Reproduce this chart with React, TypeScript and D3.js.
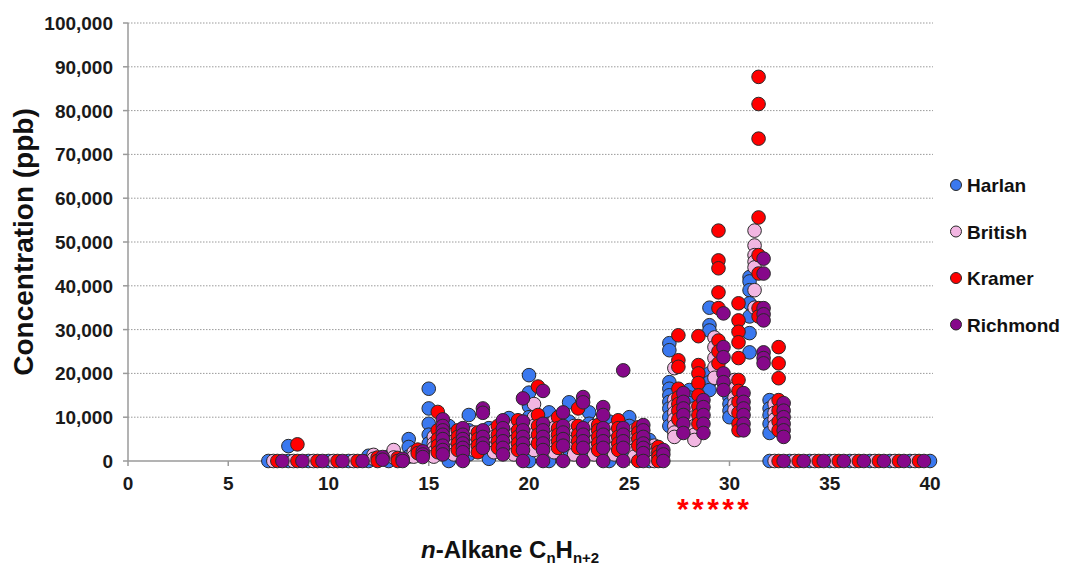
import React from "react";
import * as d3 from "d3";

// carbon numbers on the x axis (one column of samples per carbon number)
const carbonNumbers = [
  7, 8, 9, 10, 11, 12, 13, 14, 15, 16, 17, 18, 19, 20, 21, 22, 23, 24, 25, 26,
  27, 28, 29, 30, 31, 32, 33, 34, 35, 36, 37, 38, 39, 40,
];

// concentrations (ppb), one list of sample values per carbon number
const harlan: number[][] = [
  [0], [3400, 0], [0], [0], [0], [1200, 0], [1000, 0], [5000, 3200, 1000],
  [16500, 12000, 8500, 6000, 4000, 2000],
  [8000, 6000, 4500, 3000, 1500, 0],
  [10500, 7000, 5000, 3000, 1500],
  [7500, 5500, 4000, 2500, 500],
  [9800, 7500, 5500, 4000, 2500],
  [19600, 15600, 12500, 10000, 7500, 5000, 2500, 0],
  [11100, 8500, 6500, 4500, 2500, 0],
  [13400, 9000, 6500, 4500, 2500],
  [11100, 8500, 6500, 4500, 2000],
  [9000, 7000, 5000, 3500, 0],
  [10000, 8000, 6000, 4000, 2000],
  [4800, 3500, 2000, 0],
  [26900, 25300, 18000, 16500, 15000, 13500, 12000, 10000, 8000],
  [16200, 14500, 13200, 11500, 10000],
  [35000, 31000, 29800, 20000, 18000, 16200],
  [16200, 14500, 13000, 11500, 10000],
  [42000, 41000, 39000, 36000, 33000, 29200, 24800],
  [13900, 12000, 10500, 8500, 6400, 0],
  [0], [0], [0], [0], [0], [0], [0], [0],
];

const british: number[][] = [
  [0], [0], [0], [0], [0], [1400, 500], [2500, 800], [2000, 1000],
  [5500, 4000, 3000, 2000, 1000],
  [6000, 4500, 3500, 2500, 1500],
  [6500, 5000, 3500, 2500],
  [7000, 5500, 4000, 3000, 2000],
  [8000, 6000, 4500, 3000, 1500],
  [13000, 10000, 8000, 6000, 4000, 2500],
  [9000, 7500, 5500, 3500, 2000],
  [8000, 6000, 4500, 3000, 1500],
  [8000, 6000, 4500, 3000, 1500],
  [7500, 6000, 4500, 3000, 1500],
  [7000, 5500, 4000, 2500, 1000],
  [3500, 2500, 1500, 0],
  [21200, 14000, 12500, 11000, 9500, 8000, 6500, 5500],
  [12000, 10000, 8000, 6000, 4800],
  [28200, 26000, 23500, 21400, 19000],
  [18500, 16500, 14500, 13000, 11600],
  [52600, 49200, 47000, 45500, 44200, 39000, 35000],
  [13000, 11000, 9500, 8000, 0],
  [0], [0], [0], [0], [0], [0], [0], [],
];

const kramer: number[][] = [
  [0], [3800, 0], [0], [0], [0], [800, 0], [700, 0], [2600, 1800],
  [11200, 7000, 5000, 3500, 2000],
  [7000, 5500, 4000, 2500],
  [6500, 5000, 3500, 2000],
  [8000, 6000, 4500, 3000],
  [9300, 7000, 5500, 4000, 2500],
  [17000, 10500, 8000, 6000, 4000],
  [10000, 7500, 6000, 4500, 3000],
  [12000, 8000, 6000, 4500, 3000],
  [8200, 7000, 5500, 4000, 2500],
  [9300, 7500, 5500, 4000, 2500],
  [7700, 6500, 5000, 3500, 0],
  [3200, 2000, 1000, 0],
  [28700, 23000, 21500, 16500, 14500, 13000, 11500, 9500],
  [28500, 21900, 20000, 17800, 15000, 12500, 10500, 8500],
  [52600, 45800, 44000, 38500, 34900, 27500, 25000, 22300],
  [36000, 32100, 29500, 27100, 23500, 18500, 16000, 13500, 11000, 8500, 7000],
  [87700, 81500, 73600, 55600, 47000, 42800, 34900, 33000],
  [26000, 22300, 18900, 13900, 11500, 9000, 7000, 0],
  [0], [0], [0], [0], [0], [0], [0], [],
];

const richmond: number[][] = [
  [0], [0], [0], [0], [0], [900, 300], [500, 0], [2200, 1500, 900],
  [9500, 8000, 7000, 6000, 5000, 3500, 2500, 1500],
  [7500, 6000, 5000, 4000, 3000, 2000, 0],
  [12000, 11000, 7000, 5500, 4000, 3000],
  [9300, 7500, 6000, 4500, 3000, 1500],
  [14300, 9000, 7000, 5500, 4000, 2500, 0],
  [16000, 8500, 7000, 5500, 4000, 2500, 0],
  [11100, 8000, 6500, 5000, 3500, 0],
  [14600, 13400, 7500, 6000, 4500, 3000, 0],
  [12300, 10500, 7500, 6000, 4500, 3000, 0],
  [20700, 7500, 6000, 4500, 3000, 0],
  [8200, 7000, 5500, 4000, 3000, 1800, 0],
  [2500, 1500, 0],
  [15500, 13500, 12000, 10500, 8500, 6400],
  [13900, 12300, 10500, 8500, 6400],
  [33700, 26000, 23700, 20000, 18000, 16200],
  [15500, 13500, 12000, 10500, 8500, 7000],
  [46200, 42800, 34900, 33500, 32100, 24800, 23500, 22300],
  [13200, 11500, 10000, 8500, 7000, 5500, 0],
  [0], [0], [0], [0], [0], [0], [0], [],
];

const seriesNames = ["Harlan", "British", "Kramer", "Richmond"];
const seriesValues = [harlan, british, kramer, richmond];

const xTicks = [0, 5, 10, 15, 20, 25, 30, 35, 40];
const yTicks = [0, 10000, 20000, 30000, 40000, 50000, 60000, 70000, 80000, 90000, 100000];

// styling
const colors = ["#3a78ef", "#f2b6e2", "#ff0000", "#86088a"];
const offsets = [0, 0.25, 0.45, 0.7];
const font = "'Liberation Sans', Arial, sans-serif";

const W = 1071;
const H = 569;
const left = 128;
const right = 930;
const top = 23;
const bottom = 461;

export default function App() {
  const x = d3.scaleLinear().domain([0, 40]).range([left, right]);
  const y = d3.scaleLinear().domain([0, 100000]).range([bottom, top]);
  const fmt = d3.format(",");

  return (
    <svg
      width={W}
      height={H}
      style={{ position: "absolute", left: 0, top: 0, background: "#fff" }}
      fontFamily={font}
    >
      {/* gridlines */}
      {yTicks.slice(1).map((t) => (
        <line
          key={"g" + t}
          x1={left}
          x2={right + 3}
          y1={y(t)}
          y2={y(t)}
          stroke="#9a9a9a"
          strokeWidth={1}
          strokeDasharray="1.5,1.5"
        />
      ))}

      {/* axes */}
      <line x1={left} x2={left} y1={top} y2={bottom} stroke="#9a9a9a" strokeWidth={1.5} />
      <line x1={left} x2={right} y1={bottom} y2={bottom} stroke="#9a9a9a" strokeWidth={1.5} />
      {yTicks.map((t) => (
        <g key={"y" + t}>
          <line x1={left - 5} x2={left} y1={y(t)} y2={y(t)} stroke="#9a9a9a" strokeWidth={1.5} />
          <text
            x={113}
            y={y(t) + 7}
            textAnchor="end"
            fontSize={19}
            fontWeight="bold"
            fill="#1a1a1a"
          >
            {fmt(t)}
          </text>
        </g>
      ))}
      {xTicks.map((t) => (
        <g key={"x" + t}>
          <line x1={x(t)} x2={x(t)} y1={bottom} y2={bottom + 5} stroke="#9a9a9a" strokeWidth={1.5} />
          <text
            x={x(t)}
            y={490}
            textAnchor="middle"
            fontSize={19}
            fontWeight="bold"
            fill="#1a1a1a"
          >
            {t}
          </text>
        </g>
      ))}

      {/* points */}
      {seriesValues.map((series, si) => (
        <g key={seriesNames[si]}>
          {series.map((vals, ci) =>
            vals.map((v, vi) => (
              <circle
                key={ci + "-" + vi}
                cx={x(carbonNumbers[ci] + offsets[si])}
                cy={y(v)}
                r={6.8}
                fill={colors[si]}
                stroke="#2a2a2a"
                strokeWidth={1}
              />
            ))
          )}
        </g>
      ))}

      {/* significance marks */}
      <text
        x={713}
        y={519}
        textAnchor="middle"
        fontSize={30}
        fontWeight="bold"
        fill="#ff0000"
        textLength={72}
        lengthAdjust="spacing"
      >
        *****
      </text>

      {/* axis titles */}
      <text
        transform={`translate(33, 242) rotate(-90)`}
        textAnchor="middle"
        fontSize={28}
        fontWeight="bold"
        fill="#111"
      >
        Concentration (ppb)
      </text>
      <text x={421} y={558} fontSize={24} fontWeight="bold" fill="#111">
        <tspan fontStyle="italic">n</tspan>
        <tspan>-Alkane C</tspan>
        <tspan fontSize={15} dy={5}>n</tspan>
        <tspan dy={-5}>H</tspan>
        <tspan fontSize={15} dy={5}>n+2</tspan>
      </text>

      {/* legend */}
      {seriesNames.map((name, i) => (
        <g key={"l" + name} transform={`translate(0, ${185 + i * 46.5})`}>
          <circle cx={956} cy={0} r={5.5} fill={colors[i]} stroke="#2a2a2a" strokeWidth={1} />
          <text x={967} y={7} fontSize={19} fontWeight="bold" fill="#111">
            {name}
          </text>
        </g>
      ))}
    </svg>
  );
}
